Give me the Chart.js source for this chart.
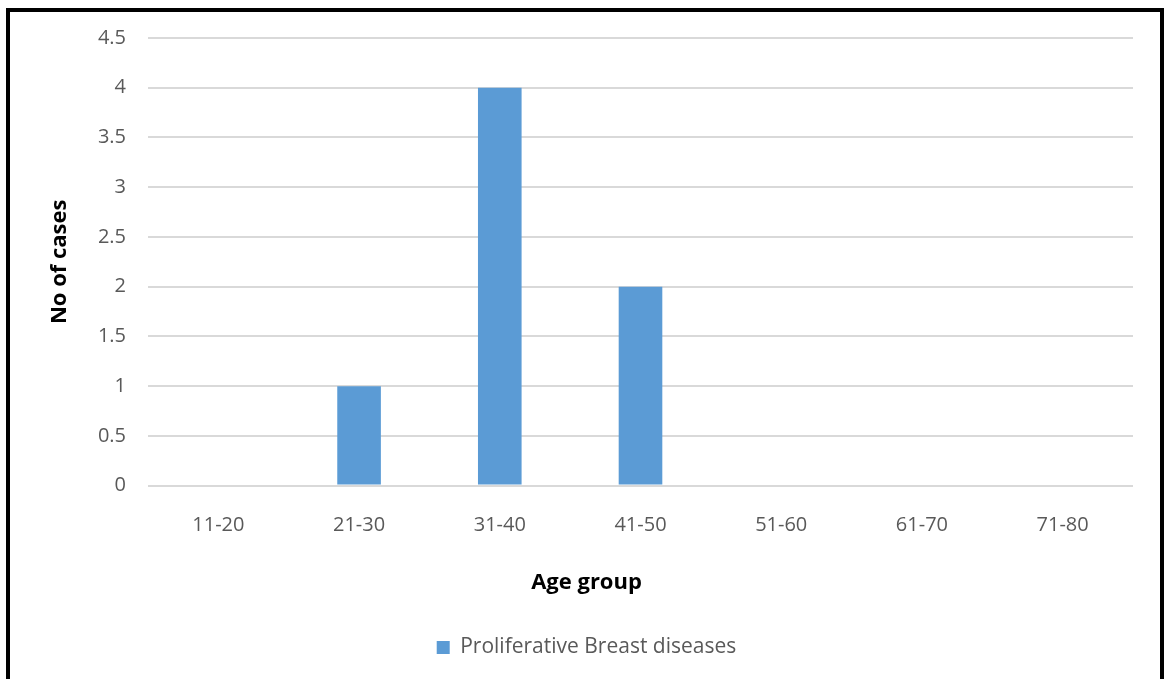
<!DOCTYPE html>
<html>
<head>
<meta charset="utf-8">
<script src="https://cdn.jsdelivr.net/npm/chart.js@4"></script>
<style>
    html, body { margin: 0; padding: 0; background: #fff; overflow: hidden; }
    #wrap { position: absolute; left: 0; top: 0; width: 1165px; height: 679px; }
    #frame {
        position: absolute; left: 6px; top: 8px; width: 1150px; height: 700px;
        border: 4px solid #000; box-sizing: content-box; pointer-events: none;
    }
    canvas { position: absolute; left: 0; top: 0; }
</style>
</head>
<body>
<div id="wrap">
    <canvas id="chart" width="1165" height="679"></canvas>
    <div id="frame"></div>
</div>
<script>
const ageGroups = ['11-20', '21-30', '31-40', '41-50', '51-60', '61-70', '71-80']
const cases = [0, 1, 4, 2, 0, 0, 0]
const seriesName = 'Proliferative Breast diseases'

const textColor = '#595959'
const gridColor = '#d9d9d9'
const barColor = '#5b9bd5'
const fontFamily = "'Open Sans', 'Liberation Sans', sans-serif"

Chart.defaults.font.family = fontFamily
Chart.defaults.color = textColor

new Chart(document.getElementById('chart'), {
    type: 'bar',
    data: {
        labels: ageGroups,
        datasets: [{
            label: seriesName,
            data: cases,
            backgroundColor: barColor,
            borderWidth: 0,
            barPercentage: 0.62,
            categoryPercentage: 0.5,
        }],
    },
    options: {
        responsive: false,
        animation: false,
        layout: { padding: { top: 38, right: 32, left: 40, bottom: 11 } },
        plugins: {
            tooltip: { enabled: false },
            // x axis title drawn as a chart title so it centres on the whole chart, like Excel
            title: {
                display: true,
                position: 'bottom',
                weight: 500,
                text: 'Age group',
                color: '#000',
                font: { size: 22, weight: 'bold' },
                padding: { top: 12, bottom: 31 },
            },
            legend: {
                position: 'bottom',
                labels: {
                    boxWidth: 13,
                    boxHeight: 13,
                    padding: 10,
                    color: textColor,
                    font: { size: 21 },
                },
            },
        },
        scales: {
            x: {
                grid: { display: false },
                border: { display: false },
                ticks: { color: textColor, font: { size: 20 }, padding: 20 },
            },
            y: {
                min: 0,
                max: 4.5,
                ticks: {
                    stepSize: 0.5,
                    color: textColor,
                    font: { size: 20 },
                    padding: 22,
                    callback: (value) => String(value),
                },
                grid: { color: gridColor, lineWidth: 2, drawTicks: false },
                border: { display: false },
                title: {
                    display: true,
                    text: 'No of cases',
                    color: '#000',
                    font: { size: 22, weight: 'bold' },
                    padding: { top: 7, bottom: 20 },
                },
                afterFit(scale) {
                    scale.width = 108
                },
            },
        },
    },
})
</script>
</body>
</html>
